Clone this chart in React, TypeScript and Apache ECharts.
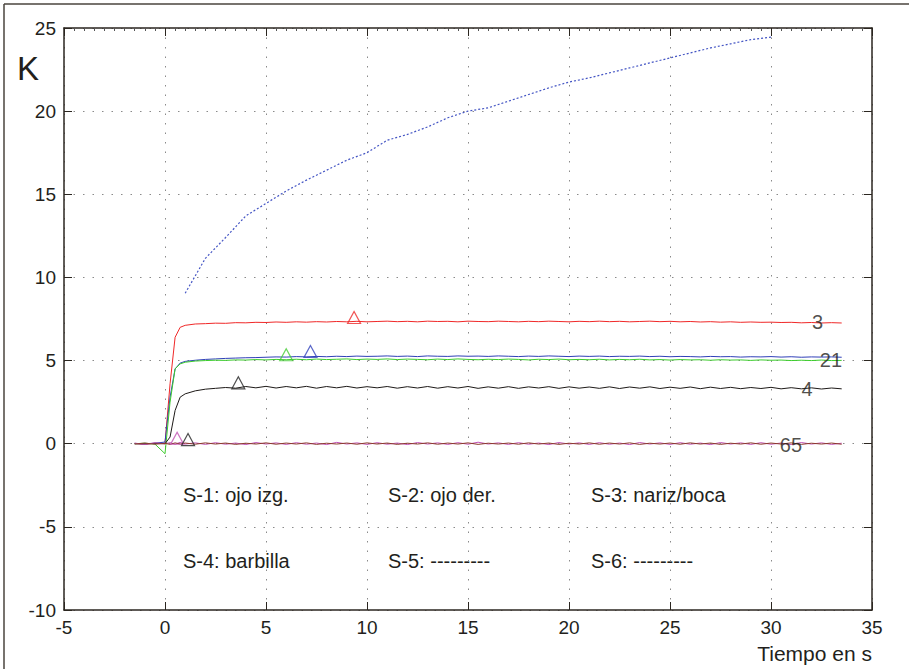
import React, { useEffect, useRef } from "react";
import * as echarts from "echarts";

// time axis (s)
const t = [-1.5, -1, -0.5, 0, 0.25, 0.5, 0.75, 1,
  1.5, 2, 2.5, 3, 3.5, 4, 4.5, 5, 5.5, 6, 6.5, 7, 7.5, 8, 8.5, 9, 9.5, 10, 10.5, 11,
  11.5, 12, 12.5, 13, 13.5, 14, 14.5, 15, 15.5, 16, 16.5, 17, 17.5, 18, 18.5, 19, 19.5, 20,
  20.5, 21, 21.5, 22, 22.5, 23, 23.5, 24, 24.5, 25, 25.5, 26, 26.5, 27, 27.5, 28, 28.5, 29,
  29.5, 30, 30.5, 31, 31.5, 32, 32.5, 33, 33.5];

const s3Red = [0.02, -0.03, 0.03, 0.0, 3.6, 6.4, 7.0, 7.12,
  7.2, 7.22, 7.25, 7.24, 7.28, 7.27, 7.3, 7.29, 7.32, 7.3,
  7.33, 7.31, 7.34, 7.32, 7.35, 7.33, 7.36, 7.33, 7.35, 7.37,
  7.34, 7.36, 7.33, 7.37, 7.35, 7.36, 7.33, 7.37, 7.35, 7.34,
  7.37, 7.35, 7.33, 7.36, 7.34, 7.37, 7.35, 7.33, 7.36, 7.34,
  7.37, 7.34, 7.36, 7.33, 7.35, 7.37, 7.34, 7.36, 7.33, 7.35,
  7.32, 7.34, 7.31, 7.33, 7.3, 7.32, 7.3, 7.31, 7.29, 7.3,
  7.27, 7.29, 7.26, 7.28, 7.26];

const s2Blue = [0.02, 0.0, 0.03, 0.1, 2.8, 4.5, 4.85, 4.95,
  5.02, 5.07, 5.1, 5.13, 5.15, 5.17, 5.18, 5.2, 5.22, 5.21,
  5.24, 5.22, 5.25, 5.23, 5.26, 5.24, 5.27, 5.25, 5.26, 5.28,
  5.25, 5.27, 5.24, 5.28, 5.26, 5.25, 5.28, 5.26, 5.27, 5.25,
  5.28, 5.26, 5.24, 5.27, 5.25, 5.28, 5.26, 5.24, 5.27, 5.25,
  5.27, 5.24, 5.26, 5.25, 5.27, 5.24, 5.26, 5.23, 5.25, 5.24,
  5.22, 5.25, 5.23, 5.24, 5.21, 5.23, 5.22, 5.24, 5.21, 5.23,
  5.2, 5.22, 5.21, 5.22, 5.2];

const s1Green = [0.0, 0.03, -0.02, -0.6, 2.5, 4.5, 4.8, 4.9,
  4.97, 5.0, 5.02, 5.01, 5.04, 5.03, 5.06, 5.04, 5.07, 5.05,
  5.08, 5.05, 5.09, 5.06, 5.08, 5.1, 5.06, 5.09, 5.07, 5.1,
  5.06, 5.09, 5.07, 5.05, 5.09, 5.06, 5.1, 5.07, 5.05, 5.08,
  5.06, 5.09, 5.07, 5.04, 5.08, 5.06, 5.09, 5.05, 5.07, 5.05,
  5.08, 5.04, 5.07, 5.05, 5.08, 5.04, 5.06, 5.03, 5.06, 5.04,
  5.05, 5.02, 5.05, 5.03, 5.04, 5.01, 5.04, 5.02, 5.03, 5.0,
  5.02, 5.0, 5.03, 5.0, 5.01];

const s4Black = [0.0, -0.02, 0.02, 0.0, 0.4, 2.0, 2.8, 3.0,
  3.18, 3.28, 3.33, 3.38, 3.34, 3.44, 3.36, 3.45, 3.35, 3.44,
  3.36, 3.45, 3.34, 3.44, 3.36, 3.45, 3.35, 3.43, 3.36, 3.44,
  3.34, 3.43, 3.35, 3.44, 3.34, 3.43, 3.35, 3.44, 3.33, 3.42,
  3.34, 3.43, 3.33, 3.42, 3.35, 3.43, 3.33, 3.42, 3.34, 3.41,
  3.33, 3.42, 3.32, 3.41, 3.34, 3.42, 3.32, 3.4, 3.33, 3.41,
  3.31, 3.4, 3.32, 3.39, 3.31, 3.38, 3.32, 3.39, 3.3, 3.37,
  3.3, 3.36, 3.29, 3.35, 3.3];

const s6Purple = [0.03, -0.04, 0.05, 0.0, 0.06, -0.03, 0.08, -0.02,
  0.05, -0.04, 0.06, -0.03, 0.04, -0.05, 0.07, -0.02, 0.05, -0.04,
  0.06, -0.03, 0.04, -0.05, 0.08, -0.02, 0.05, -0.04, 0.06, -0.03,
  0.04, -0.05, 0.07, -0.02, 0.05, -0.04, 0.06, -0.03, 0.09, -0.02,
  0.05, -0.04, 0.06, -0.03, 0.04, -0.05, 0.07, -0.02, 0.05, -0.04,
  0.06, -0.03, 0.04, -0.05, 0.07, -0.02, 0.05, -0.04, 0.06, -0.03,
  0.04, -0.05, 0.07, -0.02, 0.05, -0.04, 0.06, -0.03, 0.04, -0.05,
  0.07, -0.02, 0.05, -0.04, 0.03];

const s5Brown = [-0.02, 0.04, -0.03, 0.02, -0.04, 0.05, -0.02, 0.04,
  -0.03, 0.05, -0.02, 0.04, -0.04, 0.03, -0.02, 0.05, -0.03, 0.04,
  -0.02, 0.05, -0.04, 0.03, -0.02, 0.04, -0.03, 0.05, -0.02, 0.04,
  -0.04, 0.03, -0.02, 0.05, -0.03, 0.04, -0.02, 0.05, -0.04, 0.03,
  -0.02, 0.04, -0.03, 0.05, -0.02, 0.04, -0.04, 0.03, -0.02, 0.05,
  -0.03, 0.04, -0.02, 0.05, -0.04, 0.03, -0.02, 0.04, -0.03, 0.05,
  -0.02, 0.04, -0.04, 0.03, -0.02, 0.05, -0.03, 0.04, -0.02, 0.05,
  -0.04, 0.03, -0.02, 0.04, -0.03];

// dotted reference curve
const refX = [1, 2, 3, 4, 5, 6, 7, 8, 9, 10, 11, 12, 13, 14, 15, 16, 17, 18, 19, 20,
  21, 22, 23, 24, 25, 26, 27, 28, 29, 30];
const refY = [9.05, 11.15, 12.4, 13.7, 14.45, 15.2, 15.85, 16.45, 17.05, 17.5, 18.25, 18.6,
  19.05, 19.6, 20.0, 20.2, 20.6, 21.0, 21.4, 21.75, 22.0, 22.3, 22.6, 22.9, 23.2, 23.5,
  23.8, 24.05, 24.3, 24.45];

// triangle markers
const markX = [9.36, 6.0, 7.2, 3.63, 0.6, 1.14];
const markY = [7.59, 5.35, 5.55, 3.66, 0.33, 0.25];
const markColors = ["#ee2a2a", "#44cc33", "#3344bb", "#222222", "#c050b0", "#222222"];

// end labels
const endText = ["3", "21", "4", "65"];
const endX = [32.3, 32.97, 31.78, 30.99];
const endY = [7.29, 5.03, 3.29, -0.06];

// legend text
const legendRow1 = ["S-1: ojo izg.", "S-2: ojo der.", "S-3: nariz/boca"];
const legendRow2 = ["S-4: barbilla", "S-5: ---------", "S-6: ---------"];

const xTicks = { min: -5, max: 35, interval: 5 };
const yTicks = { min: -10, max: 25, interval: 5 };

const FONT = "'Liberation Sans', Arial, Helvetica, sans-serif";
const INK = "#231f1c";
const AXIS = "#2b2620";

function pairs(xs: number[], ys: number[]) {
  return xs.map((x, i) => [x, ys[i]]);
}

export default function App() {
  const ref = useRef<HTMLDivElement>(null);
  useEffect(() => {
    if (!ref.current) return;
    const chart = echarts.init(ref.current, undefined, { renderer: "svg" });
    const traceLine = (name: string, vals: number[], color: string, z: number) => ({
      name,
      type: "line",
      data: pairs(t, vals),
      showSymbol: false,
      symbol: "none",
      z,
      lineStyle: { color, width: 1 },
      itemStyle: { color },
    });
    const legendCols = [183, 388, 591];
    const option: any = {
      animation: false,
      backgroundColor: "#ffffff",
      grid: { left: 64, top: 28, width: 808, height: 582, containLabel: false },
      xAxis: [
        {
          type: "value",
          position: "bottom",
          min: xTicks.min,
          max: xTicks.max,
          interval: xTicks.interval,
          axisLine: { show: true, onZero: false, lineStyle: { color: AXIS, width: 1.5 } },
          axisTick: { show: true, inside: true, length: 8, lineStyle: { color: AXIS, width: 1 } },
          axisLabel: { color: INK, fontSize: 19, fontFamily: FONT, margin: 8 },
          splitLine: { show: true, lineStyle: { color: "#8a8a8a", width: 1, type: [1.5, 8] } },
        },
        {
          type: "value",
          position: "top",
          min: xTicks.min,
          max: xTicks.max,
          interval: xTicks.interval,
          axisLine: { show: true, onZero: false, lineStyle: { color: AXIS, width: 1.5 } },
          axisTick: { show: true, inside: true, length: 8, lineStyle: { color: AXIS, width: 1 } },
          minorTick: { show: true, splitNumber: 10, length: 3, lineStyle: { color: "#555", width: 1 } },
          axisLabel: { show: false },
          splitLine: { show: false },
        },
      ],
      yAxis: [
        {
          type: "value",
          position: "left",
          min: yTicks.min,
          max: yTicks.max,
          interval: yTicks.interval,
          axisLine: { show: true, onZero: false, lineStyle: { color: AXIS, width: 1.5 } },
          axisTick: { show: true, inside: true, length: 8, lineStyle: { color: AXIS, width: 1 } },
          axisLabel: { color: INK, fontSize: 19, fontFamily: FONT, margin: 8 },
          splitLine: { show: true, lineStyle: { color: "#8a8a8a", width: 1, type: [1.5, 8] } },
        },
        {
          type: "value",
          position: "right",
          min: yTicks.min,
          max: yTicks.max,
          interval: yTicks.interval,
          axisLine: { show: true, onZero: false, lineStyle: { color: AXIS, width: 1.5 } },
          axisTick: { show: true, inside: true, length: 8, lineStyle: { color: AXIS, width: 1 } },
          axisLabel: { show: false },
          splitLine: { show: false },
        },
      ],
      series: [
        {
          name: "ref",
          type: "line",
          data: pairs(refX, refY),
          showSymbol: false,
          symbol: "none",
          z: 3,
          lineStyle: { color: "#4455c4", width: 1.2, type: [2, 2] },
        },
        traceLine("S-3", s3Red, "#f02828", 4),
        traceLine("S-2", s2Blue, "#2f3fb8", 5),
        traceLine("S-1", s1Green, "#3ccc2c", 6),
        traceLine("S-4", s4Black, "#1e1a18", 7),
        traceLine("S-6", s6Purple, "#c050b8", 8),
        traceLine("S-5", s5Brown, "#8c3a2c", 9),
        {
          name: "marks",
          type: "scatter",
          symbol: "triangle",
          symbolSize: [13, 12],
          z: 10,
          data: markX.map((x, i) => ({
            value: [x, markY[i]],
            itemStyle: { color: "rgba(255,255,255,0)", borderColor: markColors[i], borderWidth: 1.2 },
          })),
        },
        {
          name: "endLabels",
          type: "scatter",
          symbolSize: 1,
          z: 11,
          itemStyle: { color: "rgba(0,0,0,0)" },
          label: {
            show: true,
            position: "inside",
            formatter: "{b}",
            color: INK,
            fontSize: 20,
            fontFamily: FONT,
          },
          data: endX.map((x, i) => ({ name: endText[i], value: [x, endY[i]] })),
        },
      ],
      graphic: [
        { type: "line", shape: { x1: 4, y1: 4, x2: 909, y2: 4 }, style: { stroke: "#4a453e", lineWidth: 1.5 } },
        { type: "line", shape: { x1: 4, y1: 4, x2: 4, y2: 669 }, style: { stroke: "#4a453e", lineWidth: 1.5 } },
        {
          type: "text", left: 17, top: 52,
          style: { text: "K", fontSize: 33, fontFamily: FONT, fill: INK },
        },
        {
          type: "text", x: 872, y: 653,
          style: { text: "Tiempo en s", fontSize: 21, fontFamily: FONT, fill: INK, align: "right", verticalAlign: "middle" },
        },
        ...legendRow1.map((s, i) => ({
          type: "text", x: legendCols[i], y: 495,
          style: { text: s, fontSize: 20, fontFamily: FONT, fill: INK, verticalAlign: "middle" },
        })),
        ...legendRow2.map((s, i) => ({
          type: "text", x: legendCols[i], y: 561,
          style: { text: s, fontSize: 20, fontFamily: FONT, fill: INK, verticalAlign: "middle" },
        })),
      ],
    };
    chart.setOption(option);
    return () => chart.dispose();
  }, []);
  return (
    <div
      ref={ref}
      style={{ position: "fixed", left: 0, top: 0, width: 909, height: 669, background: "#fff" }}
    />
  );
}
